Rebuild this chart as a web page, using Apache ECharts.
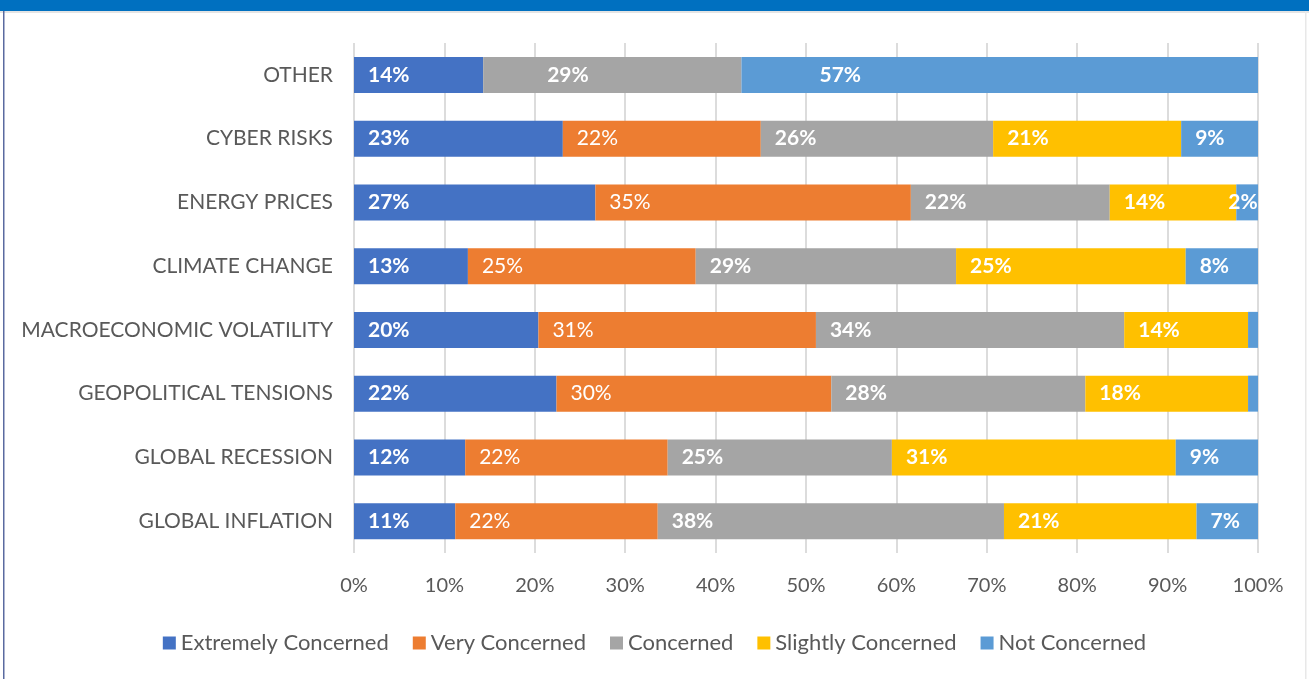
<!DOCTYPE html>
<html>
<head>
<meta charset="utf-8">
<script src="https://cdn.jsdelivr.net/npm/echarts@6/dist/echarts.min.js"></script>
<style>
html,body{margin:0;padding:0;background:#fff;}
#chart{width:1309px;height:679px;}
</style>
</head>
<body>
<div id="chart"></div>
<script>
const categories = ['OTHER','CYBER RISKS','ENERGY PRICES','CLIMATE CHANGE','MACROECONOMIC VOLATILITY','GEOPOLITICAL TENSIONS','GLOBAL RECESSION','GLOBAL INFLATION'];
const seriesNames = ['Extremely Concerned','Very Concerned','Concerned','Slightly Concerned','Not Concerned'];
const extremelyConcerned = [14.29, 23.1, 26.7, 12.6, 20.4, 22.4, 12.3, 11.2];
const veryConcerned      = [0,     21.9, 34.9, 25.2, 30.7, 30.4, 22.4, 22.4];
const concerned          = [28.57, 25.7, 22.0, 28.8, 34.1, 28.1, 24.8, 38.3];
const slightlyConcerned  = [0,     20.8, 14.0, 25.4, 13.7, 18.0, 31.4, 21.3];
const notConcerned       = [57.14, 8.5,  2.4,  8.0,  1.1,  1.1,  9.1,  6.8];
const xTicks = [0,10,20,30,40,50,60,70,80,90,100];

const colors = ['#4472C4','#ED7D31','#A5A5A5','#FFC000','#5B9BD5'];
const allValues = [extremelyConcerned, veryConcerned, concerned, slightlyConcerned, notConcerned];
const FONT = 'Lato';

// per-item label distance tweaks (layout only)
const distTweaks = {
  '2-0': 64,  // OTHER concerned
  '4-0': 78,  // OTHER not concerned
  '4-2': -8   // ENERGY not concerned
};

const series = allValues.map((vals, si) => ({
  name: seriesNames[si],
  type: 'bar',
  stack: 'total',
  barWidth: 36,
  itemStyle: { color: colors[si] },
  label: {
    show: true,
    position: 'insideLeft',
    distance: 14,
    color: '#fff',
    fontFamily: FONT,
    fontSize: 21,
    fontWeight: si === 1 ? 'normal' : 'bold',
    formatter: p => p.value < 2 ? '' : Math.round(p.value) + '%'
  },
  labelLayout: { hideOverlap: false },
  data: vals.map((v, ci) => {
    const key = si + '-' + ci;
    if (distTweaks[key] !== undefined) {
      return { value: v, label: { distance: distTweaks[key] } };
    }
    return v;
  })
}));

const chart = echarts.init(document.getElementById('chart'));
chart.setOption({
  animation: false,
  backgroundColor: '#fff',
  graphic: [
    { type: 'rect', shape: { x: 0, y: 0, width: 1309, height: 11 }, style: { fill: '#0070C0' }, z: 100 },
    { type: 'rect', shape: { x: 0, y: 11, width: 1309, height: 2 }, style: { fill: '#e4e4e4' }, z: 100 },
    { type: 'rect', shape: { x: 3, y: 11, width: 1.5, height: 668 }, style: { fill: '#5a6aa0' }, z: 100 },
    { type: 'rect', shape: { x: 1305, y: 11, width: 1.5, height: 668 }, style: { fill: '#e8e8e8' }, z: 100 }
  ],
  grid: { left: 354, right: 51, top: 43, bottom: 126, containLabel: false },
  xAxis: {
    type: 'value',
    min: 0, max: 100, interval: 10,
    axisLine: { show: false },
    axisTick: { show: false },
    splitLine: { show: true, lineStyle: { color: '#dcdcdc', width: 2 } },
    axisLabel: {
      color: '#595959', fontFamily: FONT, fontSize: 20, margin: 23,
      formatter: v => xTicks.includes(v) ? v + '%' : ''
    }
  },
  yAxis: {
    type: 'category',
    inverse: true,
    data: categories,
    axisLine: { show: false },
    axisTick: { show: false },
    axisLabel: { color: '#595959', fontFamily: FONT, fontSize: 21, margin: 21 }
  },
  legend: {
    bottom: 20,
    left: 'center',
    itemWidth: 13,
    itemHeight: 13,
    itemGap: 24,
    icon: 'rect',
    textStyle: { color: '#595959', fontFamily: FONT, fontSize: 22 },
    data: seriesNames
  },
  series: series
});
</script>
</body>
</html>
